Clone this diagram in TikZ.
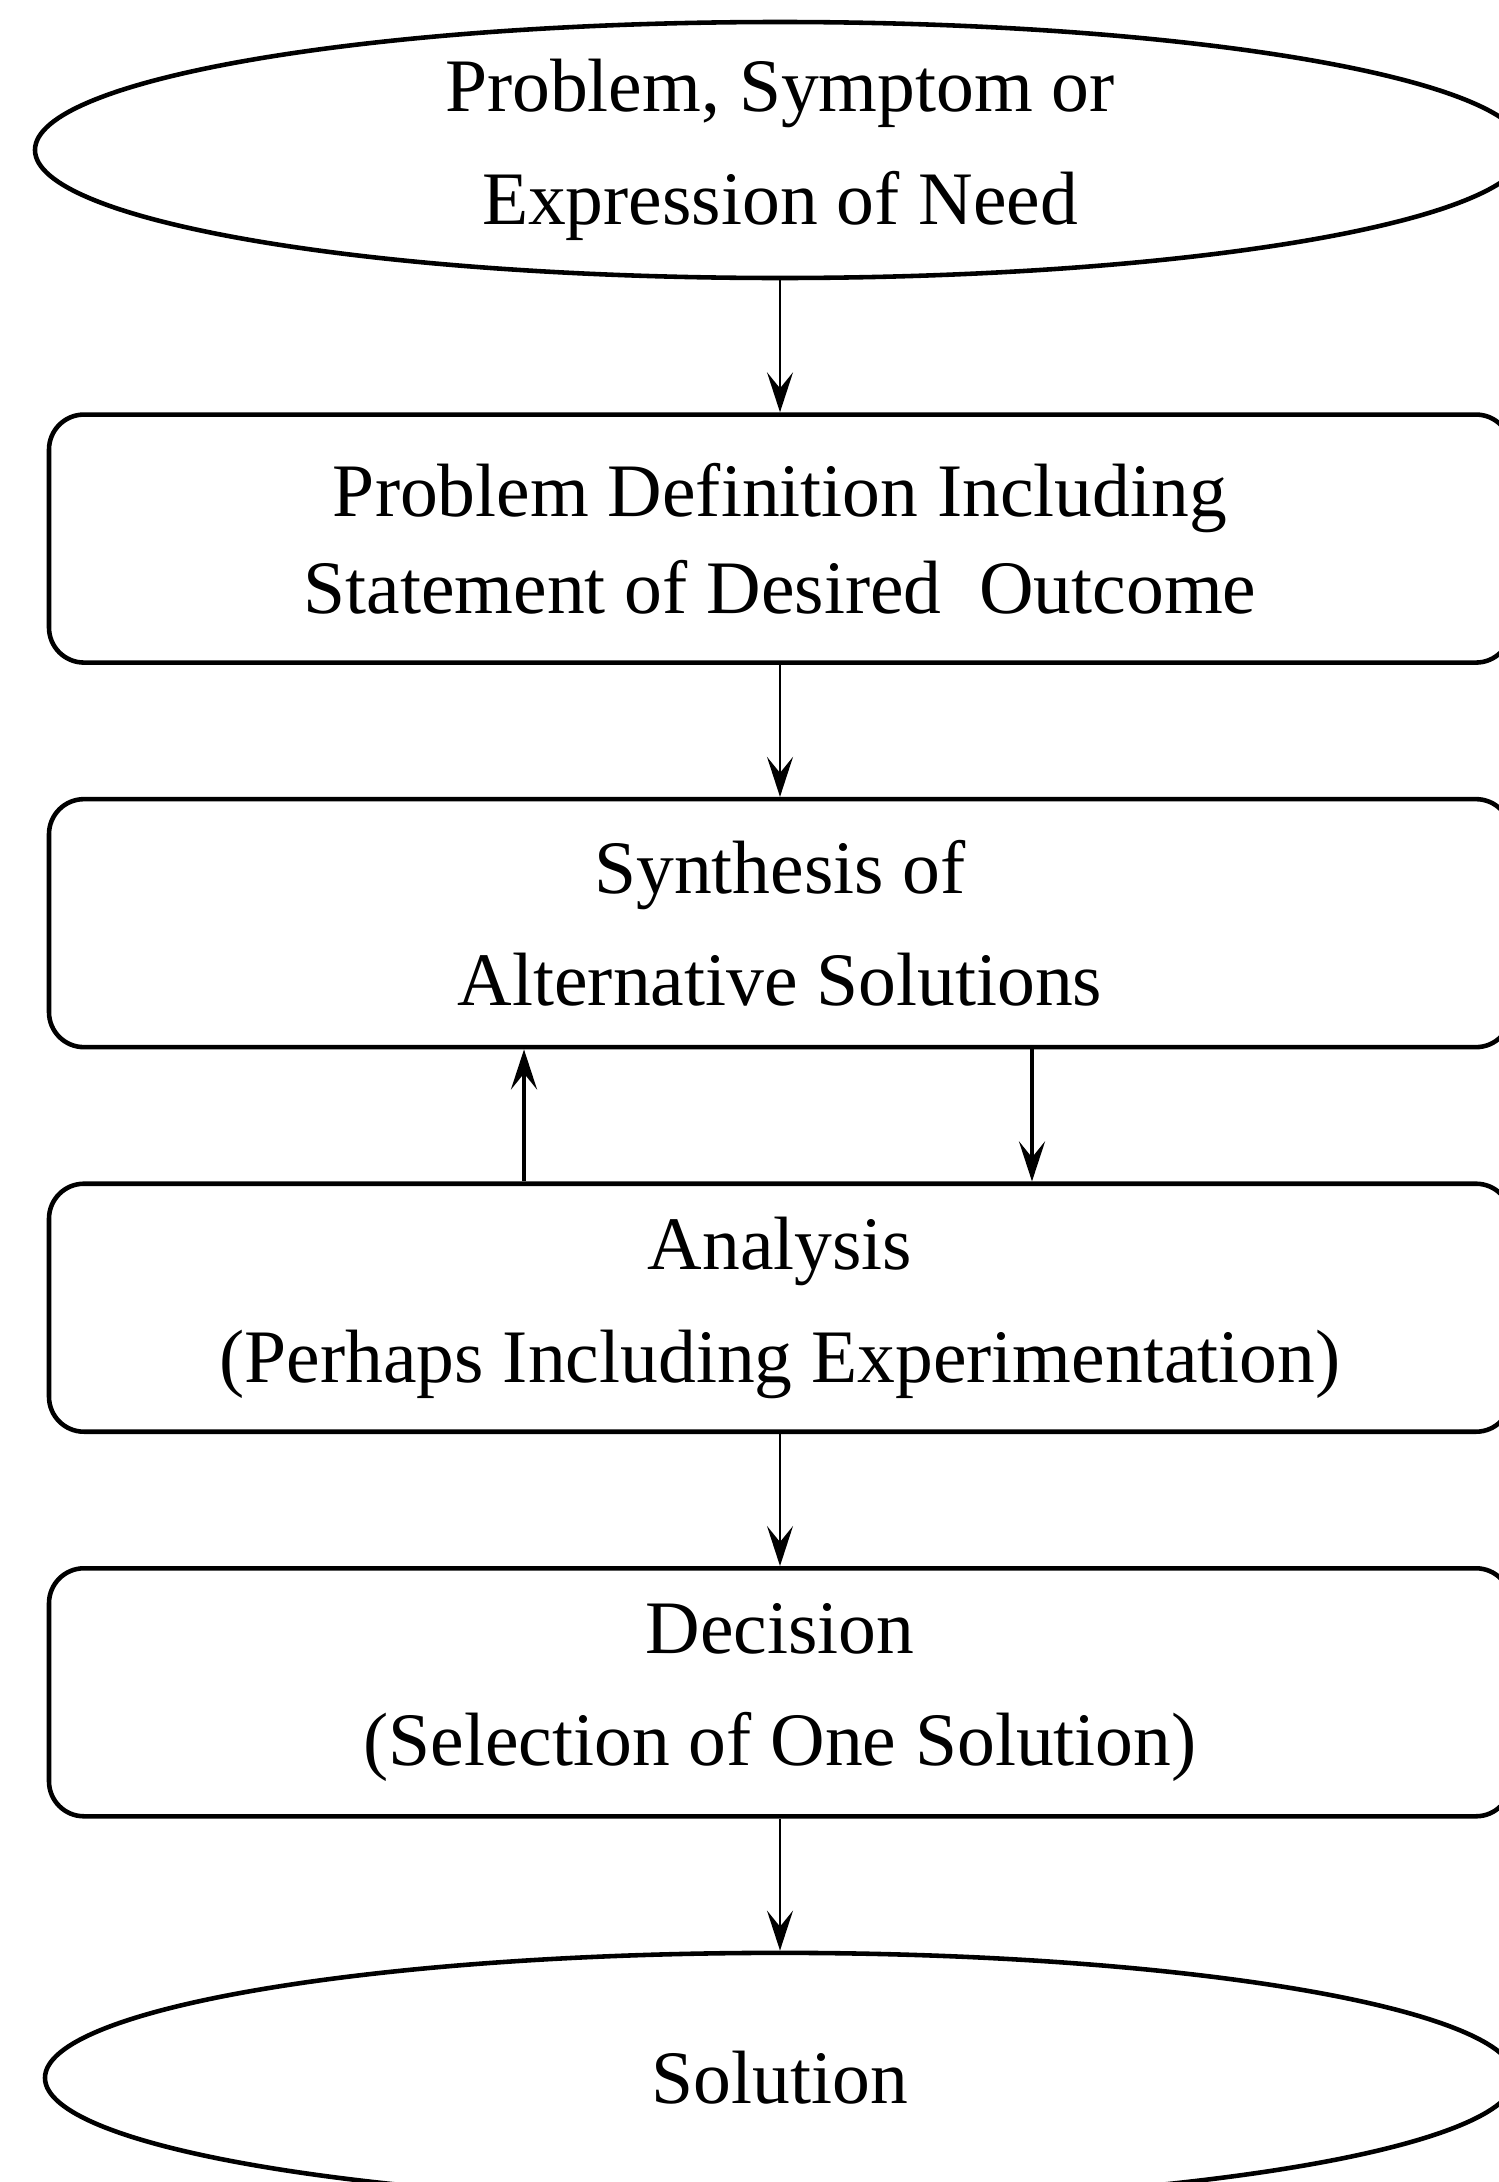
\documentclass[tikz,border=0pt]{standalone}
\usepackage{fontspec}
\setmainfont{Liberation Serif}
\usetikzlibrary{shapes.geometric, arrows.meta, positioning}

\begin{document}
\begin{tikzpicture}[font=\fontsize{21.5}{32}\selectfont,
  node distance=1.32cm,
  box/.style={rectangle, rounded corners=0.35cm, draw, line width=1.3pt,
              minimum width=14.62cm, minimum height=2.48cm, align=center, inner sep=0pt},
  term/.style={ellipse, draw, line width=1.3pt, inner sep=0pt, align=center},
  a/.style={-{Stealth[length=4mm, width=2.6mm, inset=1.6mm]}, line width=0.7pt},
  fb/.style={-{Stealth[length=4mm, width=2.6mm, inset=1.6mm]}, line width=1.3pt}]
  \useasboundingbox (0,0) rectangle (14.99,-21.82);
  \node[term, minimum width=14.9cm, minimum height=2.56cm] (need) at (7.8,-1.5)
        {Problem, Symptom or\\Expression of Need};
  \node[box, below=of need, font=\fontsize{21.5}{27.5}\selectfont] (def)
        {Problem Definition Including\\Statement of Desired\ \ Outcome};
  \node[box, below=of def] (syn) {Synthesis of\\Alternative Solutions};
  \node[box, below=of syn] (ana) {Analysis\\(Perhaps Including Experimentation)};
  \node[box, below=of ana] (dec) {Decision\\(Selection of One Solution)};
  \node[term, below=of dec, minimum width=14.7cm, minimum height=2.5cm] (sol) {Solution};
  \draw[a] (need) -- (def);
  \draw[a] (def) -- (syn);
  \draw[fb] ([xshift=-2.56cm]ana.north) -- ([xshift=-2.56cm]syn.south);
  \draw[fb] ([xshift=2.52cm]syn.south) -- ([xshift=2.52cm]ana.north);
  \draw[a] (ana) -- (dec);
  \draw[a] (dec) -- (sol);
\end{tikzpicture}
\end{document}
